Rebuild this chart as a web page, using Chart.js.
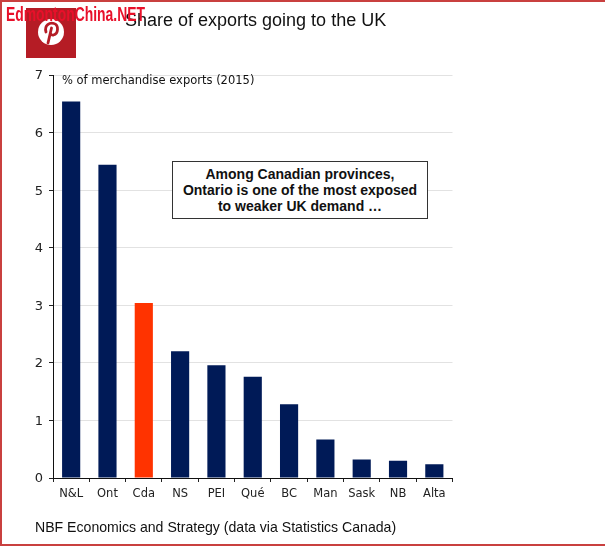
<!DOCTYPE html>
<html><head><meta charset="utf-8">
<script src="https://cdn.jsdelivr.net/npm/chart.js@4"></script>
<style>
html,body{margin:0;padding:0;background:#fff;width:605px;height:546px;overflow:hidden}
#wrap{position:relative;width:605px;height:546px}
canvas{position:absolute;left:0;top:0}
.t{position:absolute;white-space:nowrap;font-family:"Liberation Sans",Arial,sans-serif;color:#111}
#frameT{position:absolute;left:0;top:0;width:605px;height:2px;background:#c9403f}
#frameL{position:absolute;left:0;top:0;width:2px;height:545px;background:#c9403f}
#frameB{position:absolute;left:0;top:544px;width:605px;height:2px;background:#c9403f}
#pin{position:absolute;left:26px;top:8px;width:50px;height:50px;background:#b51c25}
#pin svg{position:absolute;left:0;top:0}
#note{position:absolute;left:172px;top:161px;width:254px;border:1px solid #333;background:#fff;
font:bold 14px/16px "Liberation Sans",Arial,sans-serif;color:#111;text-align:center;padding-top:4px;height:52px}
</style></head><body>
<div id="wrap">
<canvas id="c" width="605" height="546"></canvas>
<div id="frameT"></div><div id="frameL"></div><div id="frameB"></div>
<div id="pin"><svg width="50" height="50" viewBox="0 0 50 50">
<circle cx="25" cy="24" r="13" fill="#fff"/>
<path d="M22 35 L25.5 20 M20 24 C18 17 24 14 28 15.500 C33 17 32.500 26 27.500 27 C25.500 27.300 24.500 26 24.500 25" fill="none" stroke="#b51c25" stroke-width="2.800" stroke-linecap="round"/>
</svg></div>
<div class="t" style="left:125px;top:10px;font-size:18px;line-height:20px">Share of exports going to the UK</div>
<div class="t" style="left:6px;top:3px;font:bold 20px/22px 'Liberation Sans',sans-serif;color:#e8102a;transform-origin:0 0;transform:scaleX(0.695)">EdmontonChina.NET</div>
<div class="t" style="left:62px;top:72px;font:11.500px/16px 'DejaVu Sans',sans-serif">% of merchandise exports (2015)</div>
<div id="note">Among Canadian provinces,<br>Ontario is one of the most exposed<br>to weaker UK demand …</div>
<div class="t" style="left:35px;top:518px;font-size:14.100px;line-height:18px">NBF Economics and Strategy (data via Statistics Canada)</div>
</div>
<script>
const categories = ["N&L","Ont","Cda","NS","PEI","Qué","BC","Man","Sask","NB","Alta"];
const shareValues = [6.54,5.44,3.04,2.2,1.96,1.76,1.28,0.67,0.32,0.3,0.24];
const barColors = ["#001a57","#001a57","#ff3300","#001a57","#001a57","#001a57","#001a57","#001a57","#001a57","#001a57","#001a57"];
const yTicks = [0,1,2,3,4,5,6,7];
new Chart(document.getElementById('c'),{
  type:'bar',
  data:{labels:categories,datasets:[{data:shareValues,backgroundColor:barColors,barPercentage:0.5,categoryPercentage:1,borderWidth:0}]},
  options:{
    responsive:false,animation:false,devicePixelRatio:1,
    layout:{padding:{left:0,top:75,right:152.5,bottom:0}},
    plugins:{legend:{display:false},title:{display:false},tooltip:{enabled:false}},
    scales:{
      x:{grid:{drawOnChartArea:false,drawTicks:true,tickLength:4,color:'#222'},
         border:{color:'#111',width:1},
         ticks:{color:'#222',font:{family:'DejaVu Sans',size:11.5},padding:5,maxRotation:0,autoSkip:false},
         afterFit:s=>{s.height=68}},
      y:{min:0,max:7,
         afterBuildTicks:s=>{s.ticks=yTicks.map(v=>({value:v}))},
         grid:{color:'#e2e2e2',lineWidth:1,tickColor:'#222',tickLength:4},
         border:{color:'#111',width:1},
         ticks:{color:'#222',font:{family:'DejaVu Sans',size:13},padding:6,labelOffset:1},
         afterFit:s=>{s.width=53}}
    }
  }
});
</script>
</body></html>
